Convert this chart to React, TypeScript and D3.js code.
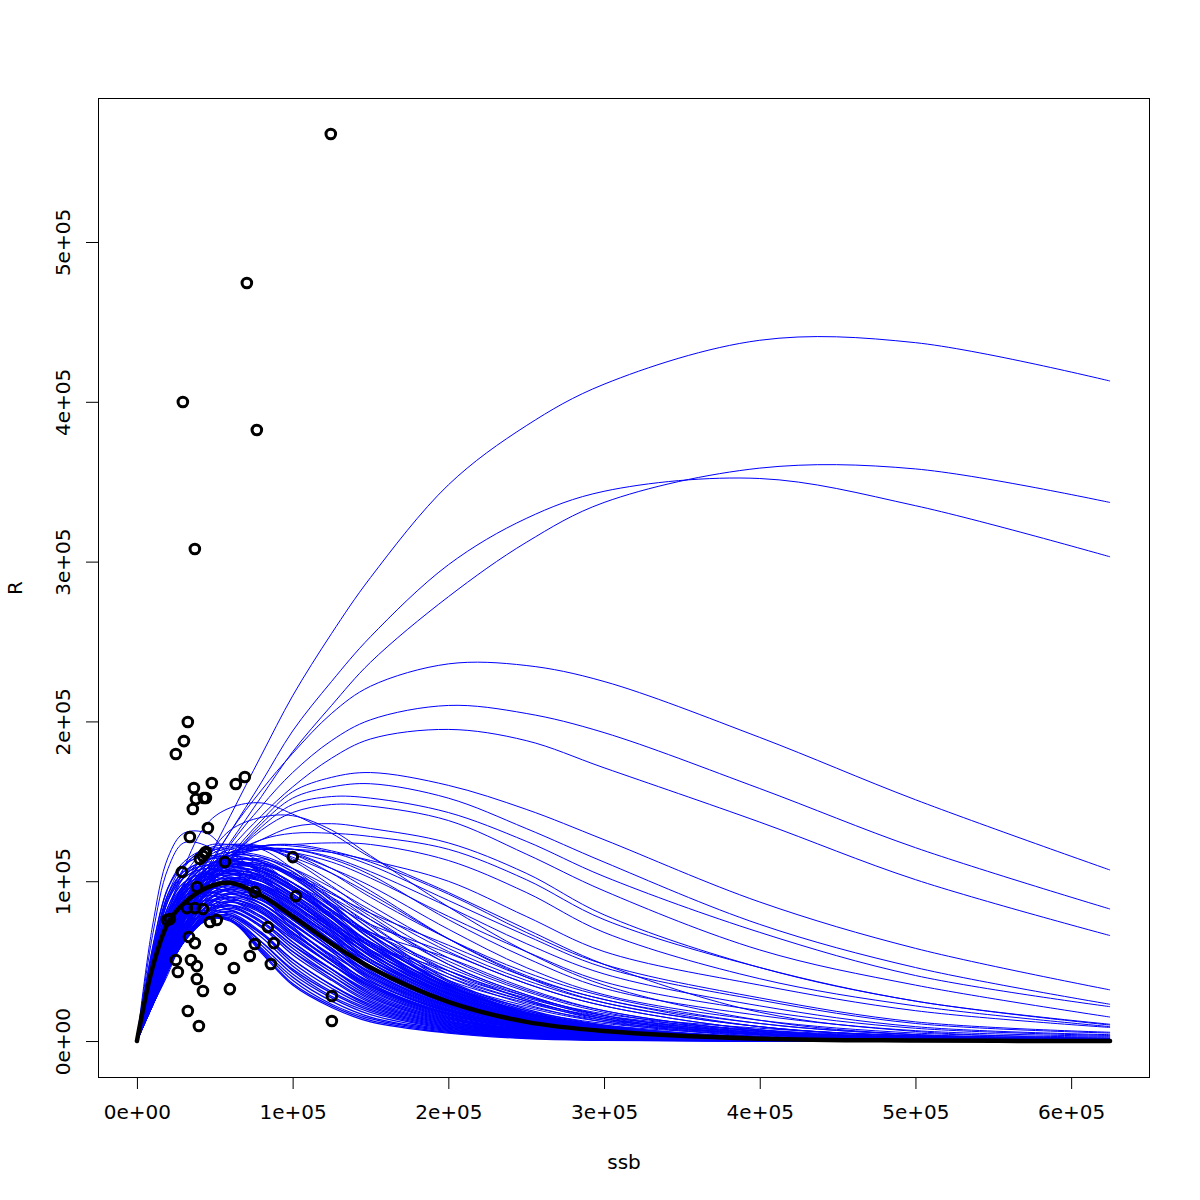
import { useEffect, useRef } from 'react';
import * as d3 from 'd3';

// all values in thousands (ssb and R)
const xTicks = [0, 100, 200, 300, 400, 500, 600];
const xLabels = ['0e+00', '1e+05', '2e+05', '3e+05', '4e+05', '5e+05', '6e+05'];
const yTicks = [0, 100, 200, 300, 400, 500];
const yLabels = ['0e+00', '1e+05', '2e+05', '3e+05', '4e+05', '5e+05'];

const pointSsb = [124.5, 70.6, 29.5, 77, 37.2, 32.7, 30.2, 25, 69.3, 48.1, 63.5, 36.6, 37.9, 43, 44.3, 35.9, 45.6, 34, 43.6, 42.4, 40.4, 44.3, 56.5, 100.1, 28.9, 38.5, 75.7, 102.1, 19.3, 21.2, 32.1, 37.2, 42.4, 51.3, 46.9, 33.4, 84.1, 37.2, 75.7, 87.9, 53.9, 72.5, 34.7, 25, 38.5, 62.3, 26.3, 86, 38.5, 59.7, 42.4, 125.2, 32.7, 39.8, 125.2];
const pointR = [567.6, 474.3, 399.9, 382.4, 307.9, 199.6, 187.7, 179.6, 165.2, 161.5, 160.8, 158.3, 151.4, 152.1, 152.1, 145.2, 133.3, 127.7, 117.6, 115.8, 113.9, 118.3, 112, 115.1, 105.8, 96.4, 93.2, 90.7, 75.7, 76.3, 83.2, 83.2, 82.6, 75.7, 74.5, 65.1, 71.3, 61.3, 60.7, 61.3, 57.6, 53.2, 50.7, 50.7, 46.9, 45.7, 43.2, 48.2, 38.8, 32.5, 31.3, 28.2, 18.8, 9.4, 12.5];

// ssb positions every curve below was read at (the origin is added when drawing)
const ssbGrid = [10, 20, 30, 45, 60, 80, 100, 125, 150, 200, 250, 300, 400, 500, 625];

const meanCurve = [46, 74, 86, 96, 99, 91, 78, 61, 46, 24.5, 12, 6.3, 1.5, 0.3, 0.05];

const upperCurves = [
  [27, 52, 80, 112, 141, 179, 216, 255, 290, 348, 385, 411, 438.5, 437, 413],
  [24, 48, 76, 108, 131, 162, 194, 225, 253, 298, 327, 344, 352, 335, 303],
  [22, 44, 70, 104, 124.5, 153, 181, 210, 237, 278, 312, 337, 358.5, 358, 337],
  [22, 44, 70, 105, 131, 157, 180, 205, 222, 236, 235, 225, 190, 151, 107],
  [22, 44, 68, 100, 123, 147, 168, 188, 201, 210, 205, 193, 158, 121, 82.6],
  [22, 42, 66, 97, 120, 141, 159, 177, 189, 195, 188, 171, 137, 101, 66],
];

const midCurves = [
  [22, 44, 66, 96, 116, 138, 156, 165, 168, 160, 145, 126, 87, 58, 32],
  [22, 44, 66, 94, 114, 136, 152, 159, 161, 152, 133, 112, 73, 46, 23],
  [24, 46, 68, 94, 114, 134, 148, 153, 152, 143, 125, 103, 68, 41, 21.5],
  [24, 46, 68, 94, 114, 132, 143, 148, 147, 138, 117, 94, 57, 35, 15],
  [28, 52, 74, 100, 116, 126, 134, 136, 133, 124, 105, 79, 46, 25, 10.5],
  [28, 52, 74, 100, 116, 126, 130, 130, 128, 120, 101, 76, 46, 25, 10],
  [28, 54, 76, 102, 118, 122, 123, 124, 123, 113, 93, 68, 39, 22, 9],
  [30, 56, 78, 104, 116, 120, 120, 118, 113, 100, 78, 56, 35, 19, 8.5],
  [44, 80, 108, 136, 146, 149, 142, 130, 115, 93, 70, 48, 18, 6, 1.5],
  [30, 58, 84, 114, 132, 140, 141, 132, 116, 84, 56, 35, 13, 4, 1],
  [72, 115, 130, 130, 115, 92, 70, 50, 35, 17, 8, 3, 0.6, 0.1, 0],
  [66, 108, 124, 122, 110, 92, 72, 52, 37, 19, 9, 4, 0.8, 0.1, 0],
  [30, 56, 78, 102, 116, 122, 123, 119, 112, 92, 68, 48, 27, 12, 5.5],
  [28, 54, 76, 100, 114, 122, 122, 118, 110, 88, 66, 46, 25.6, 11, 5],
  [32, 60, 82, 104, 116, 120, 120, 115, 106, 84, 61, 42, 22, 9, 4],
  [34, 62, 84, 106, 116, 120, 118, 112, 102, 78, 56, 37, 19, 8, 3.5],
  [30, 56, 78, 102, 114, 120, 120, 114, 104, 76, 52, 33, 16, 6.5, 3],
  [36, 66, 88, 108, 118, 120, 117, 108, 97, 70, 46, 29, 13, 5, 2.5],
  [40, 72, 94, 112, 120, 121, 115, 105, 92, 64, 41, 26, 11, 4, 2],
  [33, 62, 85, 108, 118, 121, 118, 108, 94, 64, 40, 24, 9, 3, 1.2],
  [50, 88, 108, 122, 123, 120, 108, 90, 72, 44, 26, 14, 4, 1, 0.2],
  [45, 80, 103, 120, 123, 122, 113, 97, 80, 52, 32, 19, 6, 1.8, 0.4],
  [40, 74, 97, 117, 122, 121, 114, 100, 85, 58, 38, 24, 9, 3, 0.7],
  [54, 92, 110, 120, 120, 112, 97, 78, 60, 34, 18, 9, 2.5, 0.6, 0.1],
  [36, 68, 92, 115, 121, 122, 117, 105, 90, 64, 43, 28, 11, 4, 1],
  [58, 96, 112, 120, 117, 104, 86, 66, 49, 25, 12, 5, 1.2, 0.2, 0],
  [38, 72, 95, 114, 118, 116, 108, 93, 76, 48, 29, 16, 5, 1.4, 0.3],
  [34, 64, 86, 106, 113, 112, 104, 92, 80, 60, 40, 26, 9, 3, 1],
  [44, 78, 98, 113, 116, 110, 99, 86, 73, 55, 36, 22, 7, 2, 0.6],
  [30, 58, 80, 102, 112, 114, 108, 96, 82, 56, 36, 22, 7, 2, 0.5],
  [48, 84, 102, 114, 113, 106, 94, 80, 68, 52, 33, 19, 6, 1.6, 0.4],
  [36, 68, 90, 108, 114, 112, 104, 90, 76, 50, 31, 18, 5, 1.2, 0.3],
  [28, 54, 76, 98, 108, 110, 105, 93, 78, 48, 29, 16, 4.5, 1.1, 0.3],
  [42, 76, 96, 110, 113, 108, 97, 82, 68, 46, 28, 15, 4, 1, 0.2],
  [52, 88, 104, 114, 112, 102, 89, 73, 60, 44, 26, 14, 3.5, 0.8, 0.2],
  [32, 60, 82, 102, 110, 110, 103, 89, 73, 42, 25, 13, 3, 0.7, 0.2],
  [38, 70, 92, 108, 112, 108, 97, 81, 66, 40, 23, 12, 2.8, 0.6, 0.1],
  [35, 66, 88, 104, 110, 108, 99, 84, 68, 44, 28, 17, 8, 3.5, 1.5],
  [30, 58, 80, 100, 108, 106, 97, 82, 66, 42, 27, 16, 7, 3, 1.3],
  [42, 74, 92, 104, 106, 102, 92, 77, 62, 40, 25, 15, 6.5, 2.6, 1],
  [28, 54, 76, 96, 104, 103, 94, 78, 61, 38, 24, 14, 6, 2.4, 0.9],
  [46, 80, 96, 104, 103, 96, 85, 71, 57, 36, 22, 13, 5.5, 2.2, 0.8],
  [33, 62, 82, 98, 102, 98, 88, 72, 56, 34, 21, 12, 5, 2, 0.7],
  [26, 50, 72, 92, 100, 97, 87, 71, 54, 32, 19, 11, 4.5, 1.7, 0.6],
  [40, 70, 86, 96, 98, 92, 81, 65, 50, 30, 18, 10, 4, 1.5, 0.5],
];

const bandCurves = [
  [30, 58, 84, 108, 116, 115, 106, 88, 70, 38, 20, 10, 2.4, 0.5, 0.1],
  [42, 76, 98, 113, 116, 112, 102, 85, 67, 37, 19, 9.5, 2.2, 0.4, 0.1],
  [58, 96, 110, 116, 114, 106, 95, 78, 62, 36, 18, 9, 2, 0.4, 0.1],
  [29, 56, 81, 105, 113, 113, 104, 86, 66, 35.5, 18, 9, 2, 0.4, 0.1],
  [40, 73, 95, 110, 113, 109, 99, 82, 64, 35, 17.5, 8.5, 1.9, 0.3, 0.1],
  [28, 54, 78, 102, 110, 111, 103, 84, 64, 34.5, 17, 8.5, 1.8, 0.3, 0],
  [55, 92, 106, 112, 110, 103, 91, 74, 59, 34, 17, 8, 1.7, 0.3, 0],
  [39, 72, 93, 108, 111, 107, 96, 79, 61, 33.5, 16.5, 8, 1.7, 0.3, 0],
  [28, 54, 78, 102, 109, 108, 99, 81, 61, 33, 16, 7.8, 1.6, 0.3, 0],
  [38, 70, 91, 106, 109, 105, 94, 77, 59, 32.5, 16, 7.5, 1.6, 0.3, 0],
  [54, 90, 104, 110, 107, 100, 88, 71, 56, 32, 15.5, 7.5, 1.5, 0.3, 0],
  [27, 52, 76, 99, 107, 106, 97, 79, 59, 31.5, 15, 7.2, 1.5, 0.2, 0],
  [37, 68, 89, 104, 107, 103, 92, 75, 57, 31, 15, 7, 1.4, 0.2, 0],
  [27, 52, 75, 98, 106, 104, 95, 77, 57, 30.5, 14.5, 7, 1.4, 0.2, 0],
  [52, 88, 102, 108, 105, 97, 85, 69, 54, 30, 14.5, 6.8, 1.3, 0.2, 0],
  [36, 66, 87, 102, 105, 101, 90, 73, 55, 29.5, 14, 6.6, 1.3, 0.2, 0],
  [26, 50, 74, 96, 104, 102, 92, 75, 55, 29, 14, 6.5, 1.3, 0.2, 0],
  [36, 66, 86, 101, 104, 100, 88, 71, 53, 28.5, 13.5, 6.4, 1.2, 0.2, 0],
  [50, 84, 99, 105, 102, 94, 82, 66, 51, 28, 13.5, 6.2, 1.2, 0.2, 0],
  [26, 50, 72, 94, 102, 100, 90, 72, 53, 27.5, 13, 6, 1.2, 0.2, 0],
  [35, 64, 84, 99, 102, 98, 86, 69, 51, 27, 13, 5.9, 1.1, 0.2, 0],
  [25, 48, 71, 93, 101, 98, 88, 70, 51, 26.5, 12.5, 5.8, 1.1, 0.2, 0],
  [48, 82, 97, 103, 100, 92, 79, 63, 49, 26, 12.5, 5.6, 1.1, 0.2, 0],
  [34, 62, 83, 97, 100, 96, 84, 67, 49, 25.5, 12, 5.5, 1, 0.1, 0],
  [25, 48, 70, 92, 100, 97, 86, 68, 49, 25, 12, 5.4, 1, 0.1, 0],
  [34, 62, 82, 96, 99, 95, 82, 65, 47, 24.5, 11.5, 5.2, 1, 0.1, 0],
  [48, 80, 95, 101, 98, 89, 76, 60, 46, 24, 11.5, 5, 1, 0.1, 0],
  [24, 46, 68, 90, 98, 95, 83, 65, 46, 23.5, 11, 5, 0.9, 0.1, 0],
  [33, 60, 80, 94, 97, 92, 80, 62, 45, 23, 11, 4.8, 0.9, 0.1, 0],
  [24, 46, 67, 88, 96, 93, 81, 63, 44, 22.5, 10.5, 4.6, 0.9, 0.1, 0],
  [46, 78, 93, 98, 95, 86, 73, 57, 43, 22, 10.5, 4.5, 0.8, 0.1, 0],
  [33, 58, 78, 92, 95, 90, 78, 60, 43, 21.5, 10, 4.4, 0.8, 0.1, 0],
  [24, 46, 66, 87, 95, 92, 79, 60, 42, 21, 10, 4.2, 0.8, 0.1, 0],
  [32, 58, 77, 91, 94, 88, 76, 58, 41, 20.5, 9.5, 4.1, 0.8, 0.1, 0],
  [45, 76, 90, 96, 93, 84, 70, 54, 40, 20, 9.5, 4, 0.7, 0.1, 0],
  [24, 45, 65, 85, 93, 90, 76, 58, 40, 19.5, 9, 3.9, 0.7, 0.1, 0],
  [31, 56, 75, 89, 92, 86, 73, 56, 39, 19, 9, 3.8, 0.7, 0.1, 0],
  [24, 45, 64, 84, 92, 88, 74, 56, 38, 18.5, 8.5, 3.6, 0.6, 0.1, 0],
  [44, 74, 88, 93, 90, 81, 67, 51, 37, 18, 8.5, 3.5, 0.6, 0.1, 0],
  [30, 54, 73, 87, 90, 84, 70, 53, 36, 17.5, 8, 3.4, 0.6, 0.1, 0],
  [24, 45, 63, 82, 90, 86, 71, 53, 36, 17, 8, 3.2, 0.6, 0.1, 0],
  [30, 54, 72, 86, 89, 82, 68, 51, 35, 16.5, 7.6, 3.1, 0.5, 0, 0],
  [42, 72, 86, 91, 88, 78, 64, 48, 34, 16, 7.4, 3, 0.5, 0, 0],
  [24, 45, 62, 81, 88, 83, 68, 50, 34, 15.5, 7, 2.9, 0.5, 0, 0],
  [29, 52, 70, 84, 87, 80, 65, 48, 33, 15, 6.8, 2.8, 0.5, 0, 0],
  [24, 45, 62, 80, 87, 81, 66, 48, 32, 14.5, 6.6, 2.7, 0.4, 0, 0],
  [41, 70, 83, 88, 85, 75, 60, 45, 31, 14, 6.4, 2.6, 0.4, 0, 0],
  [28, 50, 68, 82, 85, 77, 62, 45, 30, 13.5, 6, 2.4, 0.4, 0, 0],
  [24, 45, 62, 79, 85, 78, 62, 45, 29, 13, 5.8, 2.3, 0.4, 0, 0],
  [28, 50, 67, 81, 84, 75, 60, 43, 28, 12.5, 5.6, 2.2, 0.3, 0, 0],
  [39, 66, 80, 85, 82, 72, 56, 41, 27, 12, 5.4, 2.1, 0.3, 0, 0],
  [24, 45, 62, 78, 83, 74, 58, 41, 26, 11.5, 5.1, 2, 0.3, 0, 0],
  [27, 48, 65, 79, 82, 72, 56, 39, 25, 11, 4.9, 1.9, 0.3, 0, 0],
  [24, 45, 62, 77, 81, 71, 54, 38, 24, 10.5, 4.7, 1.8, 0.3, 0, 0],
  [37, 62, 76, 82, 79, 67, 51, 35, 23, 10, 4.4, 1.7, 0.2, 0, 0],
  [26, 47, 64, 78, 80, 68, 51, 35, 22, 9.5, 4.2, 1.6, 0.2, 0, 0],
  [24, 45, 62, 76, 79, 67, 49, 33, 21, 9, 4, 1.5, 0.2, 0, 0],
  [26, 46, 63, 77, 78, 65, 47, 31, 20, 8.5, 3.7, 1.4, 0.2, 0, 0],
  [34, 58, 72, 79, 76, 62, 45, 30, 19, 8, 3.4, 1.3, 0.2, 0, 0],
  [24, 45, 62, 76, 77, 62, 44, 28, 18, 7.5, 3.1, 1.2, 0.2, 0, 0],
  [25, 46, 63, 76, 76, 60, 42, 27, 16.5, 7, 2.8, 1, 0.1, 0, 0],
  [24, 45, 62, 76, 76, 58, 40, 25, 15, 6.5, 2.5, 0.9, 0.1, 0, 0],
  [25, 45, 62, 76, 75, 57, 38, 23, 14, 6, 2.2, 0.8, 0.1, 0, 0],
  [24, 45, 62, 76, 76, 56, 36, 22, 13, 5.5, 1.9, 0.6, 0.1, 0, 0],
  [24, 45, 62, 76, 76, 55, 35, 21, 12, 5, 1.5, 0.4, 0, 0, 0],
];

const fontFamily = '"DejaVu Sans", sans-serif';

export default function App() {
  const svgRef = useRef<SVGSVGElement>(null);

  useEffect(() => {
    if (!svgRef.current) return;
    const svg = d3.select(svgRef.current);
    svg.selectAll('*').remove();

    const x = d3.scaleLinear().domain([-25, 650]).range([98, 1149]);
    const y = d3.scaleLinear().domain([-22.5, 590.1]).range([1077, 98]);

    const line = d3.line<number>()
      .x((_, i) => x(i === 0 ? 0 : ssbGrid[i - 1]))
      .y(d => y(d))
      .curve(d3.curveCatmullRom.alpha(0.5));

    // blue fits
    svg.append('g')
      .selectAll('path')
      .data([...upperCurves, ...midCurves])
      .enter()
      .append('path')
      .attr('d', d => line([0, ...d]))
      .attr('fill', 'none')
      .attr('stroke', '#0000ff')
      .attr('stroke-width', 1);

    svg.append('g')
      .selectAll('path')
      .data(bandCurves)
      .enter()
      .append('path')
      .attr('d', d => line([0, ...d]))
      .attr('fill', 'none')
      .attr('stroke', '#0000ff')
      .attr('stroke-width', 1.3);

    // observations
    svg.append('g')
      .selectAll('circle')
      .data(pointSsb)
      .enter()
      .append('circle')
      .attr('cx', d => x(d))
      .attr('cy', (_, i) => y(pointR[i]))
      .attr('r', 4.8)
      .attr('fill', 'none')
      .attr('stroke', '#000')
      .attr('stroke-width', 3);

    // mean fit
    svg.append('path')
      .attr('d', line([0, ...meanCurve]))
      .attr('fill', 'none')
      .attr('stroke', '#000')
      .attr('stroke-width', 4.5)
      .attr('stroke-linecap', 'round');

    // box
    svg.append('rect')
      .attr('x', 98.5)
      .attr('y', 98.5)
      .attr('width', 1051)
      .attr('height', 979)
      .attr('fill', 'none')
      .attr('stroke', '#000')
      .attr('stroke-width', 1);

    // axes
    const xAxis = svg.append('g')
      .attr('transform', 'translate(0,1077)')
      .call(d3.axisBottom(x).tickValues(xTicks).tickSize(12).tickPadding(16)
        .tickFormat((_, i) => xLabels[i]));
    const yAxis = svg.append('g')
      .attr('transform', 'translate(98,0)')
      .call(d3.axisLeft(y).tickValues(yTicks).tickSize(12)
        .tickFormat((_, i) => yLabels[i]));

    xAxis.select('.domain').remove();
    yAxis.select('.domain').remove();
    xAxis.selectAll('text')
      .attr('font-size', 20)
      .attr('font-family', fontFamily)
      .attr('fill', '#000');
    yAxis.selectAll('text')
      .attr('font-size', 20)
      .attr('font-family', fontFamily)
      .attr('fill', '#000')
      .attr('dy', 0)
      .attr('x', 0)
      .attr('text-anchor', 'middle')
      .attr('transform', 'translate(-28,0) rotate(-90)');

    // axis titles
    svg.append('text')
      .attr('x', 624)
      .attr('y', 1169)
      .attr('text-anchor', 'middle')
      .attr('font-size', 20)
      .attr('font-family', fontFamily)
      .text('ssb');
    svg.append('text')
      .attr('transform', 'translate(22,588) rotate(-90)')
      .attr('text-anchor', 'middle')
      .attr('font-size', 20)
      .attr('font-family', fontFamily)
      .text('R');
  }, []);

  return (
    <svg
      ref={svgRef}
      width={1200}
      height={1200}
      style={{ position: 'absolute', left: 0, top: 0, background: '#fff' }}
    />
  );
}
